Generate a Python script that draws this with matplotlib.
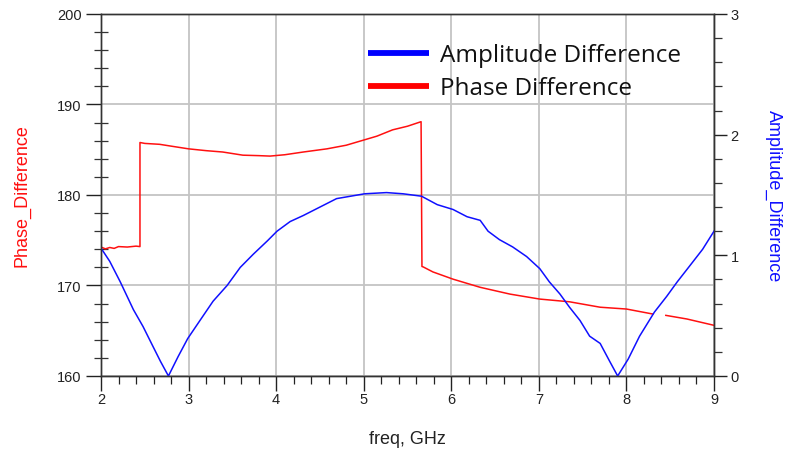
import numpy as np
import matplotlib
matplotlib.use("Agg")
import matplotlib.pyplot as plt
from matplotlib.lines import Line2D
from matplotlib.ticker import MultipleLocator

# ---------------- data ----------------
phase_freq = [2.0, 2.05, 2.1, 2.15, 2.2, 2.3, 2.4, 2.445, 2.445, 2.5, 2.67, 2.8, 3.0, 3.2,
              3.39, 3.62, 3.8, 3.93, 4.1, 4.31, 4.58, 4.8, 5.01, 5.15, 5.33, 5.5, 5.655,
              5.665, 5.68, 5.79, 6.02, 6.33, 6.67, 7.01, 7.35, 7.70, 8.0, 8.30, 8.38,
              8.45, 8.69, 9.0]
phase_diff = [174.25, 174.05, 174.2, 174.1, 174.3, 174.25, 174.35, 174.3, 185.8, 185.7,
              185.6, 185.4, 185.1, 184.9, 184.75, 184.4, 184.35, 184.3, 184.45, 184.75,
              185.1, 185.5, 186.1, 186.5, 187.2, 187.6, 188.1, 172.1, 172.05, 171.5,
              170.7, 169.8, 169.05, 168.5, 168.2, 167.6, 167.4, 166.85, np.nan, 166.7,
              166.3, 165.6]

amp_freq = [2.0, 2.1, 2.22, 2.37, 2.48, 2.59, 2.68, 2.77, 2.88, 2.99, 3.13, 3.28, 3.44,
            3.59, 3.74, 3.90, 4.01, 4.16, 4.31, 4.5, 4.69, 4.85, 5.01, 5.26, 5.45, 5.66,
            5.84, 6.02, 6.18, 6.33, 6.42, 6.55, 6.70, 6.86, 7.01, 7.12, 7.24, 7.35, 7.47,
            7.58, 7.70, 7.81, 7.90, 8.02, 8.15, 8.32, 8.46, 8.58, 8.72, 8.87, 9.0]
amp_diff = [1.06, 0.95, 0.78, 0.55, 0.41, 0.25, 0.12, 0.0, 0.16, 0.31, 0.46, 0.62, 0.75,
            0.90, 1.01, 1.12, 1.20, 1.28, 1.33, 1.40, 1.47, 1.49, 1.51, 1.52, 1.51, 1.49,
            1.42, 1.38, 1.32, 1.29, 1.20, 1.13, 1.07, 0.99, 0.89, 0.78, 0.68, 0.57, 0.46,
            0.33, 0.27, 0.12, 0.0, 0.14, 0.33, 0.53, 0.66, 0.78, 0.91, 1.05, 1.20]

x_ticks = [2, 3, 4, 5, 6, 7, 8, 9]
phase_ticks = [160, 170, 180, 190, 200]
amp_ticks = [0, 1, 2, 3]
legend_labels = ["Amplitude Difference", "Phase Difference"]

# ---------------- figure ----------------
fig = plt.figure(figsize=(7.98, 4.60), dpi=100)
ax = fig.add_axes([101/798, 1 - 377/460, 613/798, 362/460])
ax2 = ax.twinx()

tick_font = dict(family="Liberation Sans", size=10.5, color="#222222")

ax.plot(phase_freq, phase_diff, color="#ff1010", lw=1.1)
ax2.plot(amp_freq, amp_diff, color="#1010ff", lw=1.1)

ax.set_xlim(2, 9)
ax.set_ylim(160, 200)
ax2.set_ylim(0, 3)

ax.set_xticks(x_ticks)
ax.xaxis.set_minor_locator(MultipleLocator(0.2))
ax.set_yticks(phase_ticks)
ax.yaxis.set_minor_locator(MultipleLocator(2))
ax2.set_yticks(amp_ticks)
ax2.yaxis.set_minor_locator(MultipleLocator(0.2))

ax.grid(True, which="major", color="#c4c4c4", lw=1.3)
ax.set_axisbelow(True)

for a in (ax, ax2):
    for s in a.spines.values():
        s.set_color("#333333")
        s.set_linewidth(1.0)

ax.tick_params(axis="x", which="major", direction="out", length=11, width=1.0,
               color="#222222", pad=0.5)
ax.tick_params(axis="x", which="minor", direction="out", length=6, width=0.9,
               color="#222222")
ax.tick_params(axis="y", which="major", direction="out", length=11, width=1.0,
               color="#222222", pad=3)
ax.tick_params(axis="y", which="minor", direction="inout", length=10, width=0.9,
               color="#333333")
ax2.tick_params(axis="y", which="major", direction="out", length=9, width=1.0,
                color="#222222", pad=3)
ax2.tick_params(axis="y", which="minor", direction="out", length=6, width=0.9,
                color="#333333")

for lab in ax.get_xticklabels() + ax.get_yticklabels() + ax2.get_yticklabels():
    lab.set_fontfamily(tick_font["family"])
    lab.set_fontsize(tick_font["size"])
    lab.set_color(tick_font["color"])

ax.set_xlabel("freq, GHz", family="Liberation Sans", fontsize=13, color="#222222",
              labelpad=17)
ax.set_ylabel("Phase_Difference", family="Liberation Sans", fontsize=13,
              color="#ff1010", labelpad=19)
ax2.set_ylabel("Amplitude_Difference", family="Liberation Sans", fontsize=13,
               color="#1010ff", rotation=270, labelpad=31)

# legend drawn manually (no frame)
leg_colors = ["#0000ff", "#ff0000"]
leg_y = [0.892, 0.801]
for lab, c, yy in zip(legend_labels, leg_colors, leg_y):
    ax.add_line(Line2D([0.4356, 0.535], [yy, yy], transform=ax.transAxes, color=c,
                       lw=4.2, solid_capstyle="butt", zorder=5))
    ax.text(0.553, yy - 0.006, lab, transform=ax.transAxes, family="Open Sans",
            fontsize=17.5, color="#111111", va="center", ha="left", zorder=5)

fig.savefig("out.png", dpi=100)
